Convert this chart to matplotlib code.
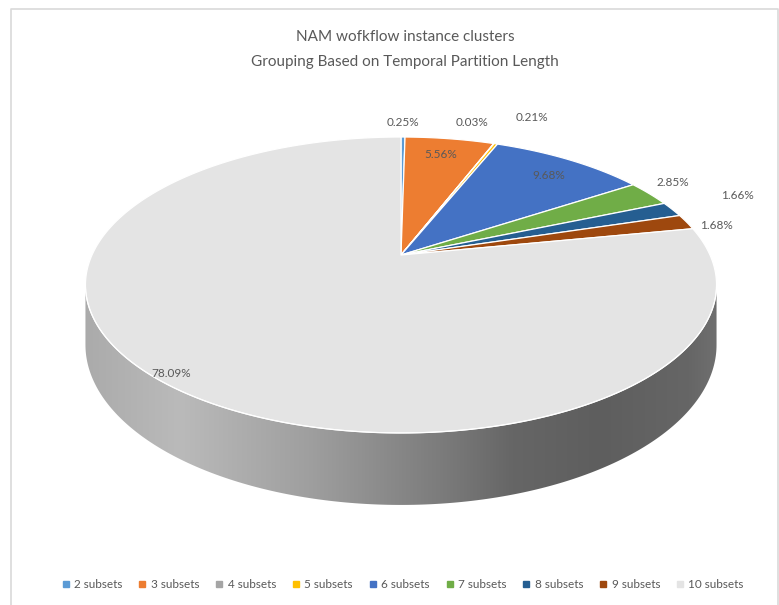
import numpy as np
import matplotlib
matplotlib.use('Agg')
import matplotlib.pyplot as plt
from matplotlib.patches import Polygon
from matplotlib.lines import Line2D

plt.rcParams['font.family'] = ['Lato', 'DejaVu Sans']

categories = ['2 subsets', '3 subsets', '4 subsets', '5 subsets', '6 subsets',
              '7 subsets', '8 subsets', '9 subsets', '10 subsets']
shares = [0.25, 5.56, 0.03, 0.21, 9.68, 2.85, 1.66, 1.68, 78.09]
colors = ['#5B9BD5', '#ED7D31', '#A5A5A5', '#FFC000', '#4472C4',
          '#70AD47', '#255E91', '#9E480E', '#E4E4E4']

# label placement: radius along the slice's mid angle, plus a small nudge in px
lab_r = [1.15, 0.83, 1.12, 1.12, 0.82, 1.104, 1.25, 1.10, 0.923]
lab_nudge = [(0, 0), (-2, -1), (-31, -10), (27, -15), (6, 0),
             (0, -5), (3, -3), (3, 7), (-18, 0)]

# tilted disc in perspective (pixel space)
CX, CY = 401, 255
RX, RY = 309, 141.9
K = 0.2026
H = 57.4


def proj(theta, r=1.0, drop=0.0):
    t = np.radians(theta)
    u = r * np.sin(t)
    v = -r * np.cos(t)
    w = 1 - K * v
    return CX + RX * u / w, CY + (RY * v + drop) / w


fig = plt.figure(figsize=(7.79, 6.05), dpi=100)
ax = fig.add_axes([0, 0, 1, 1])
ax.set_xlim(0, 779)
ax.set_ylim(605, 0)
ax.axis('off')

# chart frame
ax.plot([11, 11, 778.5, 778.5], [605, 9, 9, 605], color='#D9D9D9', lw=1.2, zorder=0)

# side wall, shaded left to right
t_edge = np.degrees(np.arccos(-K))
ts = np.linspace(t_edge, 360 - t_edge, 200)
top = np.array([proj(t) for t in ts])
bot = np.array([proj(t, drop=H) for t in ts[::-1]])
side = Polygon(np.vstack([top, bot]), closed=True, facecolor='none', edgecolor='none')
ax.add_patch(side)
stops_x = [80, 180, 313, 447, 513, 600, 690, 720]
stops_c = [0xAA, 0xBA, 0x9E, 0x7A, 0x66, 0x5E, 0x66, 0x70]
gx = np.linspace(80, 720, 400)
gv = np.interp(gx, stops_x, stops_c) / 255.0
img = np.tile(np.stack([gv, gv, gv], axis=-1)[None, :, :], (2, 1, 1))
im = ax.imshow(img, extent=[80, 720, 520, 260], aspect='auto', zorder=1)
im.set_clip_path(side)

# top face wedges, clockwise from 12 o'clock
start = 0.0
total = sum(shares)
for i, (val, col) in enumerate(zip(shares, colors)):
    span = val / total * 360
    arc = np.linspace(start, start + span, max(3, int(span * 2)))
    pts = [proj(0, 0)] + [proj(a) for a in arc]
    ax.add_patch(Polygon(pts, closed=True, facecolor=col, edgecolor='white',
                         lw=0.9, joinstyle='round', zorder=2))
    mid = start + span / 2
    lx, ly = proj(mid, lab_r[i])
    dx, dy = lab_nudge[i]
    ax.text(lx + dx, ly + dy, f'{val:.2f}%', ha='center', va='center',
            fontsize=8.5, color='#595959', zorder=4)
    start += span

# thin highlight on the front rim
rim = np.array([proj(t) for t in np.linspace(t_edge, 360 - t_edge, 200)])
ax.plot(rim[:, 0], rim[:, 1], color='white', lw=0.8, zorder=3)

ax.text(405, 37, 'NAM wofkflow instance clusters', ha='center', va='center',
        fontsize=11, color='#595959')
ax.text(405, 62, 'Grouping Based on Temporal Partition Length', ha='center',
        va='center', fontsize=11, color='#595959')

handles = [Line2D([], [], ls='none', marker='s', markersize=4, color=c) for c in colors]
fig.legend(handles, categories, loc='center', bbox_to_anchor=(403 / 779, 1 - 585 / 605),
           ncol=9, frameon=False, fontsize=8.5, labelcolor='#595959',
           handlelength=0.6, handletextpad=0.4, columnspacing=1.4)

fig.savefig('out.png', dpi=100)
